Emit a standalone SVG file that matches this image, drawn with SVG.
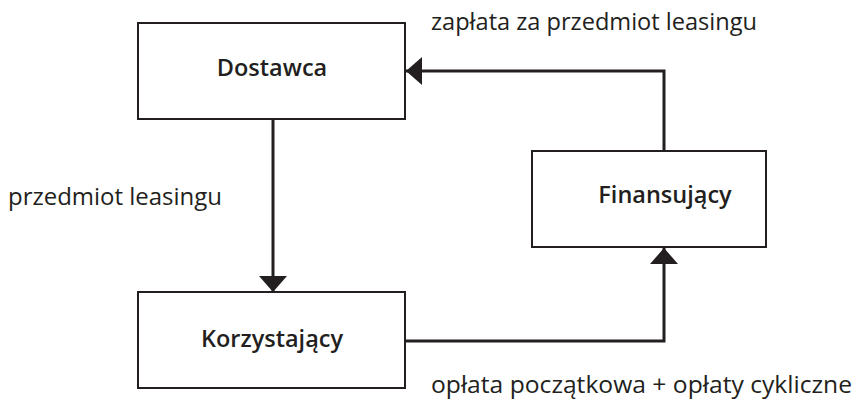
<svg xmlns="http://www.w3.org/2000/svg" width="858" height="401" viewBox="0 0 858 401">
<style>
.box{fill:#fff;stroke:#231f20;stroke-width:2}
.name{font-family:"Open Sans",sans-serif;font-size:23.5px;font-weight:600;fill:#231f20;text-anchor:middle}
.lbl{font-family:"Open Sans",sans-serif;font-size:24px;fill:#231f20}
.con{fill:none;stroke:#231f20;stroke-width:3}
</style>
<defs>
<marker id="ah" viewBox="0 0 16 28" refX="16" refY="14" markerWidth="16" markerHeight="28" markerUnits="userSpaceOnUse" orient="auto">
<path d="M0,0 L16,14 L0,28 Z" fill="#231f20"/>
</marker>
</defs>
<rect width="858" height="401" fill="#fff"/>
<g id="connectors">
<path class="con" d="M273,120 L273,292" marker-end="url(#ah)"/>
<path class="con" d="M405,341 L664,341 L664,248" marker-end="url(#ah)"/>
<path class="con" d="M664,151 L664,71 L406,71" marker-end="url(#ah)"/>
</g>
<g id="dostawca">
<rect class="box" x="138" y="23" width="267" height="96"/>
<text class="name" x="272" y="76">Dostawca</text>
</g>
<g id="finansujacy">
<rect class="box" x="532" y="151" width="234" height="96"/>
<text class="name" x="665" y="203">Finansujący</text>
</g>
<g id="korzystajacy">
<rect class="box" x="138" y="292" width="267" height="96"/>
<text class="name" x="272" y="347">Korzystający</text>
</g>
<g id="labels">
<text class="lbl" x="431" y="30" textLength="326" lengthAdjust="spacingAndGlyphs">zapłata za przedmiot leasingu</text>
<text class="lbl" x="8" y="205" textLength="214" lengthAdjust="spacingAndGlyphs">przedmiot leasingu</text>
<text class="lbl" x="431" y="393" textLength="421" lengthAdjust="spacingAndGlyphs">opłata początkowa + opłaty cykliczne</text>
</g>
</svg>
